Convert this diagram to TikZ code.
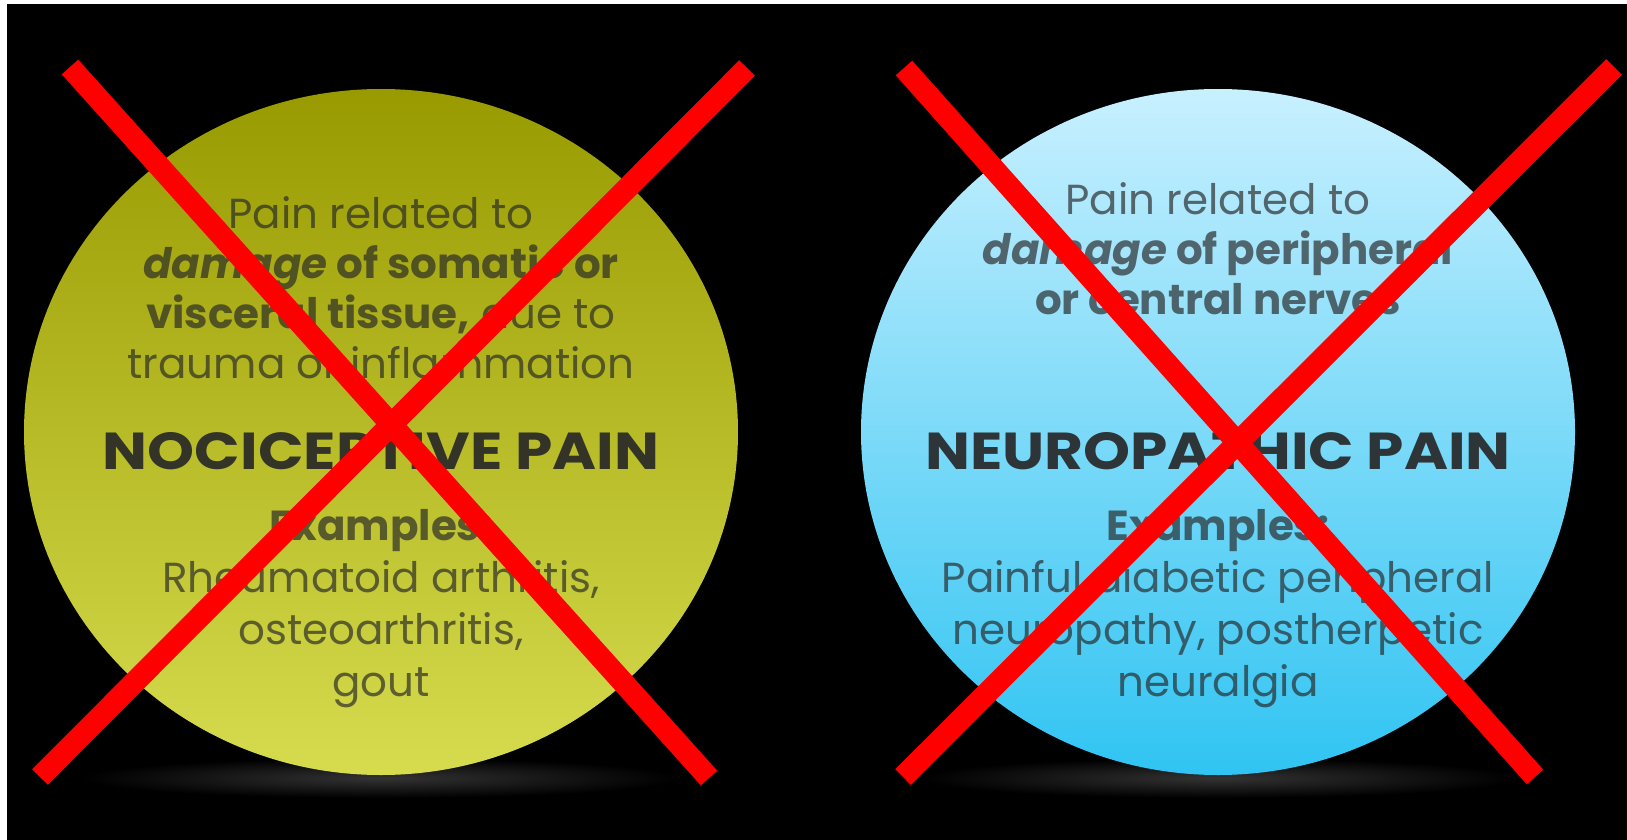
\documentclass[tikz,border=0pt]{standalone}
\usepackage{fontspec}
\setmainfont{Poppins}
\definecolor{olivetop}{RGB}{152,154,0}
\definecolor{olivemid}{RGB}{186,192,18}
\definecolor{olivebot}{RGB}{214,220,78}
\definecolor{skytop}{RGB}{200,240,255}
\definecolor{skymid}{RGB}{112,214,246}
\definecolor{skybot}{RGB}{48,196,242}
\definecolor{inkgray}{RGB}{40,40,40}
\definecolor{crossred}{RGB}{255,0,0}
\begin{document}
\begin{tikzpicture}[x=1pt,y=-1pt,
    cross/.style={line width=22pt, crossred},
    lighttext/.style={align=center, text=inkgray, text opacity=0.68, font=\fontsize{42}{50}\selectfont},
    extext/.style={lighttext, font=\fontsize{42}{52}\selectfont},
    titletext/.style={align=center, text=inkgray, text opacity=0.92, font=\fontsize{52}{60}\selectfont\bfseries}]
    \useasboundingbox (0,0) rectangle (1627,840);
    \fill[white] (0,0) rectangle (1627,840);
    \fill[black] (7,4) rectangle (1627,840);

    % shadows below the discs
    \shade[inner color=black!80!white, outer color=black] (381,778) ellipse (300 and 20);
    \shade[inner color=black!80!white, outer color=black] (1218,778) ellipse (300 and 20);

    % the two discs
    \shade[top color=olivetop, middle color=olivemid, bottom color=olivebot] (381,432) ellipse (357 and 343);
    \shade[top color=skytop, middle color=skymid, bottom color=skybot] (1218,432) ellipse (357 and 343);

    % nociceptive
    \node[lighttext] (nocidef) at (381,288) {Pain related to\\ \textbf{\textit{damage} of somatic or}\\ \textbf{visceral tissue,} due to\\ trauma or inflammation};
    \node[titletext] (nocititle) at (381,451) {\scalebox{1.15}[1]{NOCICEPTIVE PAIN}};
    \node[extext] (nociex) at (381,609) {\textbf{Examples:}\\ Rheumatoid arthritis,\\ osteoarthritis,\\ gout};

    % neuropathic
    \node[lighttext] (neurodef) at (1218,249) {Pain related to\\ \textbf{\textit{damage} of peripheral}\\ \textbf{or central nerves}};
    \node[titletext] (neurotitle) at (1218,451) {\scalebox{1.15}[1]{NEUROPATHIC PAIN}};
    \node[extext] (neuroex) at (1218,609) {\textbf{Examples:}\\ Painful diabetic peripheral\\ neuropathy, postherpetic\\ neuralgia};

    % crossed out
    \draw[cross] (70,67) -- (709,778);
    \draw[cross] (747,68) -- (40,777);
    \draw[cross] (904,68) -- (1535,777);
    \draw[cross] (1614,67) -- (903,777);
\end{tikzpicture}
\end{document}
